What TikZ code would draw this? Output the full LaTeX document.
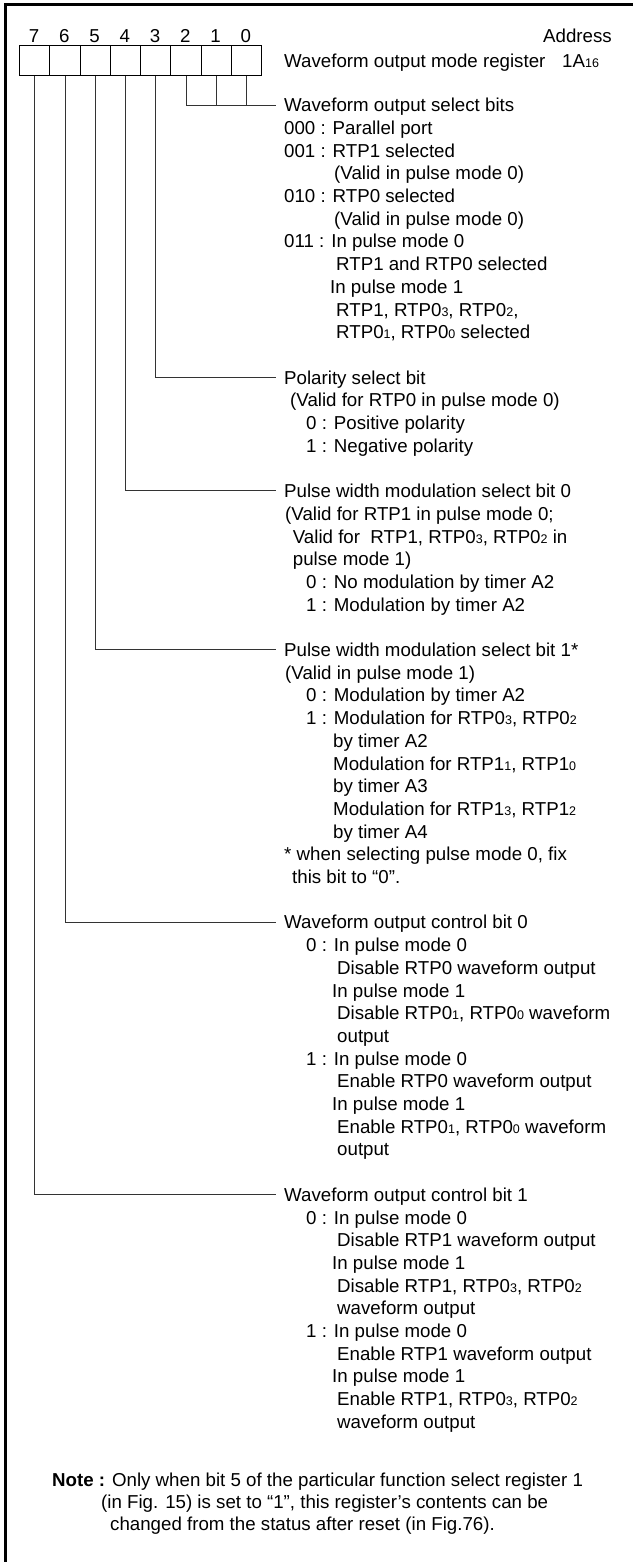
\documentclass[tikz,border=0pt]{standalone}
\usepackage{fontspec}
\setmainfont{Liberation Sans}
\newcommand\sbs[1]{{\fontsize{12.5}{12.5}\selectfont #1}}
\newcounter{ln}
\newcommand\tl[3]{\stepcounter{ln}\node[txt] (t\arabic{ln}) at (#1,#2) {#3};}
\tikzset{
  txt/.style={inner sep=0pt, anchor=west, text height=13.4pt, text depth=0pt,
    font=\fontsize{18.7}{22.7}\selectfont},
  cell/.style={draw, line width=1.2pt, minimum width=30.25pt, minimum height=30pt,
    inner sep=0pt, anchor=north west},
  lead/.style={draw=black!80, line width=0.9pt},
  frame/.style={line width=3pt}
}
\begin{document}
\begin{tikzpicture}[x=1pt,y=-1pt]
\path[use as bounding box] (0,0) rectangle (633,1562);
\draw[frame] (5.5,1562) -- (5.5,5) -- (633,5);
% register cells
\foreach \i in {0,...,7}{
  \pgfmathtruncatemacro\b{7-\i}
  \node[cell] (b\b) at (19+30.25*\i,45) {};
  \node[txt, anchor=center] (n\b) at (19+30.25*\i+15.125,35.5) {\b};
}
\node[txt] (addr) at (543,36) {Address};
\node[txt] (reg) at (284,61) {Waveform output mode register};
\node[txt] (regaddr) at (562,61) {1A\sbs{16}};
% headings
\node[txt] (h0) at (284,105) {Waveform output select bits};
\node[txt] (h3) at (284,377.4) {Polarity select bit};
\node[txt] (h4) at (284,490.9) {Pulse width modulation select bit 0};
\node[txt] (h5) at (284,649.8) {Pulse width modulation select bit 1*};
\node[txt] (h6) at (284,922.2) {Waveform output control bit 0};
\node[txt] (h7) at (284,1194.6) {Waveform output control bit 1};
% leads
\coordinate (c0) at ([xshift=-8pt]h0.west);
\draw[lead] (b2.south) |- (c0);
\draw[lead] (b1.south) -- (b1.south |- c0);
\draw[lead] (b0.south) -- (b0.south |- c0);
\foreach \k in {3,...,7}{
  \draw[lead] (b\k.south) |- ([xshift=-8pt]h\k.west);
}
% block 1
\tl{284}{127.7}{000 : Parallel port}
\tl{284}{150.4}{001 : RTP1 selected}
\tl{334}{173.1}{(Valid in pulse mode 0)}
\tl{284}{195.8}{010 : RTP0 selected}
\tl{334}{218.5}{(Valid in pulse mode 0)}
\tl{284}{241.2}{011 : In pulse mode 0}
\tl{336}{263.9}{RTP1 and RTP0 selected}
\tl{330}{286.6}{In pulse mode 1}
\tl{336}{309.3}{RTP1, RTP0\sbs{3}, RTP0\sbs{2},}
\tl{336}{332}{RTP0\sbs{1}, RTP0\sbs{0} selected}
% block 2
\tl{290}{400.1}{(Valid for RTP0 in pulse mode 0)}
\tl{306}{422.8}{0 : Positive polarity}
\tl{306}{445.5}{1 : Negative polarity}
% block 3
\tl{285}{513.6}{(Valid for RTP1 in pulse mode 0;}
\tl{292.7}{536.3}{Valid for\ \ RTP1, RTP0\sbs{3}, RTP0\sbs{2} in}
\tl{292.7}{559}{pulse mode 1)}
\tl{306}{581.7}{0 : No modulation by timer A2}
\tl{306}{604.4}{1 : Modulation by timer A2}
% block 4
\tl{285}{672.5}{(Valid in pulse mode 1)}
\tl{306}{695.2}{0 : Modulation by timer A2}
\tl{306}{717.9}{1 : Modulation for RTP0\sbs{3}, RTP0\sbs{2}}
\tl{333}{740.6}{by timer A2}
\tl{333}{763.3}{Modulation for RTP1\sbs{1}, RTP1\sbs{0}}
\tl{333}{786}{by timer A3}
\tl{333}{808.7}{Modulation for RTP1\sbs{3}, RTP1\sbs{2}}
\tl{333}{831.4}{by timer A4}
\tl{284}{854.1}{* when selecting pulse mode 0, fix}
\tl{292}{876.8}{this bit to “0”.}
% block 5
\tl{306}{944.9}{0 : In pulse mode 0}
\tl{337}{967.6}{Disable RTP0 waveform output}
\tl{332}{990.3}{In pulse mode 1}
\tl{337}{1013}{Disable RTP0\sbs{1}, RTP0\sbs{0} waveform}
\tl{337}{1035.7}{output}
\tl{306}{1058.4}{1 : In pulse mode 0}
\tl{337}{1081.1}{Enable RTP0 waveform output}
\tl{332}{1103.8}{In pulse mode 1}
\tl{337}{1126.5}{Enable RTP0\sbs{1}, RTP0\sbs{0} waveform}
\tl{337}{1149.2}{output}
% block 6
\tl{306}{1217.3}{0 : In pulse mode 0}
\tl{337}{1240}{Disable RTP1 waveform output}
\tl{332}{1262.7}{In pulse mode 1}
\tl{337}{1285.4}{Disable RTP1, RTP0\sbs{3}, RTP0\sbs{2}}
\tl{337}{1308.1}{waveform output}
\tl{306}{1330.8}{1 : In pulse mode 0}
\tl{337}{1353.5}{Enable RTP1 waveform output}
\tl{332}{1376.2}{In pulse mode 1}
\tl{337}{1398.9}{Enable RTP1, RTP0\sbs{3}, RTP0\sbs{2}}
\tl{337}{1421.6}{waveform output}
% note
\node[txt] (note) at (52,1480) {\textbf{Note :} Only when bit 5 of the particular function select register 1};
\tl{101}{1501.7}{(in Fig. 15) is set to “1”, this register’s contents can be}
\tl{110}{1523.3}{changed from the status after reset (in Fig.76).}
\end{tikzpicture}
\end{document}
